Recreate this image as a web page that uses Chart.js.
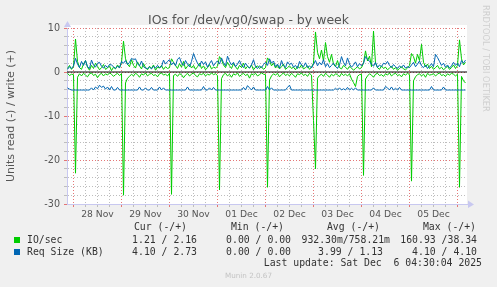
<!DOCTYPE html>
<html>
<head>
<meta charset="utf-8">
<title>IOs for /dev/vg0/swap - by week</title>
<script src="https://cdn.jsdelivr.net/npm/chart.js@4.4.0/dist/chart.umd.min.js"></script>
<style>
  html, body { margin: 0; padding: 0; background: #f0f0f0; }
  #wrap { position: relative; width: 497px; height: 287px; overflow: hidden; font-family: "DejaVu Sans", sans-serif; }
  #wrap canvas { position: absolute; left: 0; top: 0; }
  .t { position: absolute; white-space: pre; }
  .mono { font-family: "DejaVu Sans Mono", monospace; font-size: 9.8px; line-height: 12px; color: #333; }
  .sq { position: absolute; width: 6px; height: 6px; }
</style>
</head>
<body>
<div id="wrap">
  <canvas id="chart" width="497" height="287"></canvas>

  <div class="t" style="left:0;width:497px;top:12px;text-align:center;font-size:12.5px;line-height:16px;color:#555;">IOs for /dev/vg0/swap - by week</div>
  <div class="t" style="left:481px;top:5px;writing-mode:vertical-rl;font-size:8.3px;color:#cfcfcf;">RRDTOOL / TOBI OETIKER</div>

  <div class="t mono" style="right:310px;top:221px;">Cur (-/+)</div>
  <div class="t mono" style="right:213px;top:221px;">Min (-/+)</div>
  <div class="t mono" style="right:117px;top:221px;">Avg (-/+)</div>
  <div class="t mono" style="right:21px;top:221px;">Max (-/+)</div>

  <div class="sq" style="left:14px;top:237px;background:#00cc00;"></div>
  <div class="t mono" style="left:27px;top:233.5px;">IO/sec</div>
  <div class="t mono" style="right:300px;top:233.5px;">1.21 / 2.16</div>
  <div class="t mono" style="right:206px;top:233.5px;">0.00 / 0.00</div>
  <div class="t mono" style="right:107px;top:233.5px;">932.30m/758.21m</div>
  <div class="t mono" style="right:20px;top:233.5px;">160.93 /38.34</div>

  <div class="sq" style="left:14px;top:249px;background:#0066b3;"></div>
  <div class="t mono" style="left:27px;top:245.5px;">Req Size (KB)</div>
  <div class="t mono" style="right:300px;top:245.5px;">4.10 / 2.73</div>
  <div class="t mono" style="right:206px;top:245.5px;">0.00 / 0.00</div>
  <div class="t mono" style="right:114px;top:245.5px;">3.99 / 1.13</div>
  <div class="t mono" style="right:20px;top:245.5px;">4.10 / 4.10</div>

  <div class="t mono" style="right:15px;top:257px;">Last update: Sat Dec  6 04:30:04 2025</div>
  <div class="t" style="left:0;width:497px;top:271px;text-align:center;font-size:7.2px;line-height:10px;color:#c4c4c4;">Munin 2.0.67</div>
</div>

<script>
// hours relative to 28 Nov 00:00, one sample per hour
const startHour = -3;
const xMin = -3.25;
const xMax = 196.75;

const dayLabels = ['28 Nov', '29 Nov', '30 Nov', '01 Dec', '02 Dec', '03 Dec', '04 Dec', '05 Dec'];
const yTicks = [-30, -20, -10, 0, 10];

// IO/sec read (drawn negative)
const ioRead = [
  -0.3, -0.8, -0.5,
  -0.6, -23.0, -1.2, -0.4, -0.9, -0.3, -0.7, -1.1, -0.4, -0.2, -0.8, -0.5, -1.3, -0.6, -0.3, -0.9, -0.4, -0.7, -0.2, -0.5, -1.0, -0.6, -0.3, -0.8,
  -0.4, -28.0, -2.5, -1.4, -1.0, -0.5, -0.9, -0.3, -0.6, -1.2, -0.4, -0.7, -0.2, -0.9, -0.5, -0.3, -0.8, -0.6, -1.1, -0.4, -0.2, -0.7, -0.5, -0.9,
  -0.3, -27.8, -0.8, -0.5, -1.0, -0.4, -0.6, -1.3, -0.7, -0.3, -0.9, -0.5, -0.2, -0.8, -1.1, -0.4, -0.6, -0.3, -0.9, -0.5, -0.7, -0.2, -0.6, -0.4,
  -0.8, -26.8, -1.5, -0.6, -0.3, -0.9, -0.5, -1.2, -0.4, -0.7, -0.2, -1.0, -0.6, -0.3, -0.8, -0.5, -1.4, -0.4, -0.7, -0.3, -0.9, -0.6, -0.2, -0.5,
  -0.6, -26.2, -1.8, -0.9, -0.4, -0.7, -0.3, -1.1, -0.6, -0.2, -0.8, -0.5, -0.9, -0.3, -0.7, -1.2, -0.4, -0.6, -0.2, -0.8, -0.5, -1.0, -0.3, -0.7,
  -11.0, -22.0, -1.4, -0.8, -0.5, -1.0, -0.3, -0.7, -1.2, -0.5, -0.9, -0.4, -0.6, -1.1, -0.3, -0.8, -0.5, -0.9, -0.4, -1.6, -2.4, -3.3, -1.0, -0.6,
  -0.5, -23.5, -1.6, -0.9, -0.4, -0.7, -1.2, -0.5, -0.3, -0.8, -0.6, -1.0, -0.4, -0.7, -0.2, -0.9, -0.5, -0.3, -0.8, -0.6, -1.1, -0.4, -0.7, -0.3,
  -0.6, -24.8, -2.0, -1.1, -0.6, -0.4, -0.9, -0.5, -1.2, -0.3, -0.7, -0.6, -0.4, -0.9, -0.5, -0.2, -0.8, -0.6, -1.0, -0.4, -0.7, -0.3, -0.5, -0.9,
  -0.5, -26.2, -1.0, -2.0, -2.5
];

// IO/sec write
const ioWrite = [
  0.8, 1.5, 0.6,
  1.2, 7.5, 2.4, 1.0, 0.6, 1.8, 2.6, 1.1, 0.4, 1.5, 0.8, 2.0, 1.3, 0.5, 1.0, 1.7, 0.6, 0.9, 1.4, 0.3, 1.1, 0.7, 1.6, 0.9,
  2.2, 7.0, 3.0, 1.8, 1.2, 2.8, 1.5, 0.9, 2.3, 1.4, 0.7, 1.9, 1.0, 0.5, 1.3, 0.8, 1.6, 0.4, 1.1, 0.9, 1.5, 0.6, 1.2, 0.8,
  1.0, 3.0, 2.2, 1.5, 0.8, 1.9, 1.1, 2.4, 0.7, 1.3, 1.8, 0.9, 1.5, 0.6, 1.2, 2.0, 0.8, 1.4, 0.5, 1.0, 1.7, 0.7, 1.1, 0.9,
  1.3, 3.5, 2.8, 1.6, 1.0, 2.2, 1.4, 0.8, 1.9, 1.2, 0.6, 1.5, 1.0, 2.0, 0.7, 1.3, 0.9, 1.6, 0.5, 1.1, 1.4, 0.8, 1.2, 0.6,
  1.0, 3.2, 2.6, 1.4, 2.0, 0.9, 1.5, 0.7, 1.2, 1.8, 0.6, 1.0, 1.4, 0.8, 1.1, 0.5, 1.3, 0.9, 1.6, 0.7, 1.0, 1.4, 0.6, 1.1,
  2.0, 9.1, 4.5, 3.0, 5.0, 2.5, 6.7, 3.5, 2.2, 4.0, 1.8, 1.2, 2.6, 1.0, 0.7, 1.5, 1.1, 0.6, 1.3, 0.9, 0.4, 0.8, 1.2, 0.7,
  1.0, 2.0, 4.8, 2.5, 3.6, 1.2, 9.3, 2.0, 1.0, 0.6, 1.4, 0.8, 1.1, 0.5, 0.9, 1.3, 0.6, 1.0, 0.4, 0.8, 1.2, 0.7, 0.5, 0.9,
  1.5, 4.2, 3.5, 2.0, 4.0, 2.6, 6.3, 2.2, 1.2, 1.8, 0.8, 1.3, 0.6, 1.0, 1.5, 0.7, 1.1, 0.5, 0.9, 1.3, 0.6, 1.0, 1.6, 0.8,
  1.5, 7.3, 3.0, 1.6, 2.2
];

// Req Size (KB) read (drawn negative)
const reqRead = [
  -3.6, -3.9, -4.1,
  -4.1, -4.1, -4.1, -4.1, -4.1, -4.1, -4.1, -4.1, -4.1, -3.6, -4.1, -3.4, -3.8, -3.0, -3.5, -3.2, -3.9, -3.4, -4.1, -3.3, -4.1, -4.1, -3.5, -4.1,
  -4.1, -4.1, -4.1, -4.1, -4.1, -4.1, -4.1, -4.1, -4.1, -3.4, -4.1, -4.1, -3.6, -4.1, -4.1, -3.5, -4.1, -4.1, -4.1, -3.4, -4.1, -3.6, -4.1, -4.1,
  -4.1, -4.1, -4.1, -4.1, -4.1, -4.1, -4.1, -4.1, -4.1, -3.4, -4.1, -4.1, -4.1, -4.1, -4.1, -4.1, -4.1, -3.3, -4.1, -4.1, -3.6, -4.1, -3.5, -4.1,
  -4.1, -4.1, -4.1, -4.1, -4.1, -4.1, -4.1, -4.1, -4.1, -4.1, -4.1, -4.1, -4.1, -3.5, -4.1, -3.1, -3.6, -4.1, -3.4, -4.1, -4.1, -4.1, -4.1, -4.1,
  -4.1, -3.3, -4.1, -3.6, -4.1, -4.1, -4.1, -4.1, -4.1, -4.1, -4.1, -3.5, -3.0, -4.1, -4.1, -4.1, -4.1, -4.1, -4.1, -4.1, -4.1, -4.1, -4.1, -4.1,
  -4.1, -4.1, -4.1, -4.1, -4.1, -4.1, -4.1, -4.1, -4.1, -4.1, -4.1, -3.7, -4.1, -3.6, -4.1, -3.8, -4.1, -3.5, -4.1, -3.7, -4.1, -3.6, -4.1, -4.1,
  -4.1, -4.1, -4.1, -4.1, -4.1, -4.1, -3.6, -4.1, -4.1, -4.1, -4.1, -4.1, -3.3, -3.6, -4.1, -3.4, -4.1, -3.7, -4.1, -3.5, -4.1, -4.1, -4.1, -4.1,
  -4.1, -4.1, -4.1, -4.1, -4.1, -4.1, -4.1, -4.1, -4.1, -4.1, -4.1, -3.3, -4.1, -4.1, -4.1, -4.1, -4.1, -3.4, -4.1, -4.1, -4.1, -4.1, -4.1, -4.1,
  -4.1, -4.1, -4.1, -4.1, -4.1
];

// Req Size (KB) write
const reqWrite = [
  0.6, 1.2, 0.8,
  1.4, 3.1, 1.8, 1.0, 2.4, 1.5, 2.6, 1.2, 0.8, 2.7, 1.6, 1.1, 2.0, 2.2, 1.3, 0.9, 1.5, 1.0, 1.7, 1.6, 1.2, 0.8, 1.3, 1.0,
  2.4, 2.0, 2.6, 1.7, 2.2, 3.1, 2.8, 3.0, 1.9, 1.4, 2.5, 1.2, 0.9, 0.8, 1.1, 0.7, 1.3, 0.9, 1.5, 1.0, 1.2, 2.7, 1.8, 2.4,
  2.8, 1.6, 2.2, 1.4, 2.9, 3.3, 2.0, 1.5, 2.6, 1.8, 1.2, 2.4, 4.2, 3.0, 2.0, 1.3, 2.5, 1.7, 2.3, 1.1, 1.9, 2.6, 1.4, 2.1,
  2.5, 1.8, 3.2, 2.1, 1.4, 3.6, 2.4, 1.6, 2.2, 1.2, 1.8, 2.6, 1.5, 1.0, 2.0, 1.3, 0.9, 1.6, 2.8, 1.2, 0.8, 1.4, 1.0, 1.7,
  2.2, 1.5, 3.0, 2.0, 2.5, 1.2, 1.8, 0.9, 2.6, 1.4, 1.0, 2.3, 1.7, 2.0, 1.1, 1.5, 0.8, 2.4, 1.6, 1.2, 2.1, 1.0, 1.4, 0.9,
  1.8, 2.6, 1.4, 2.2, 1.6, 2.8, 1.2, 1.9, 1.0, 1.5, 2.0, 1.3, 0.8, 1.6, 3.5, 2.2, 1.4, 3.2, 1.8, 1.1, 1.6, 2.3, 1.2, 1.9,
  1.4, 2.0, 3.5, 2.9, 2.4, 1.8, 1.3, 2.2, 1.0, 1.6, 1.2, 2.0, 1.8, 2.4, 1.5, 1.0, 1.7, 1.2, 0.8, 1.4, 1.0, 1.6, 0.9, 1.2,
  1.0, 1.6, 2.2, 1.2, 1.8, 2.5, 1.4, 1.0, 1.6, 0.8, 1.3, 1.9, 1.2, 4.0, 3.3, 2.4, 1.5, 2.0, 1.1, 1.6, 0.9, 1.4, 2.2, 1.5,
  2.0, 1.2, 2.6, 2.0, 2.7
];

const hours = ioRead.map((_, i) => startHour + i);
const pts = vals => vals.map((v, i) => ({ x: hours[i], y: v }));

const GREEN = '#00cc00';
const BLUE = '#0066b3';
const MAJOR = 'rgba(225,95,95,0.85)';
const MINOR = '#bdbdbd';
const AXIS = '#c8c8f0';

function line(data, color) {
  return { data: data, borderColor: color, borderWidth: 1, pointRadius: 0, tension: 0, fill: false };
}

// white plot area + axis arrows like rrdtool
const rrdBits = {
  id: 'rrdBits',
  beforeDraw(chart) {
    const a = chart.chartArea, ctx = chart.ctx;
    ctx.save();
    ctx.fillStyle = '#ffffff';
    ctx.fillRect(a.left, a.top - 3, a.right - a.left, a.bottom - a.top + 3);
    ctx.restore();
  },
  afterDraw(chart) {
    const a = chart.chartArea, ctx = chart.ctx;
    ctx.save();
    ctx.fillStyle = AXIS;
    ctx.beginPath();
    ctx.moveTo(a.left - 3, a.top - 1);
    ctx.lineTo(a.left + 0.5, a.top - 7);
    ctx.lineTo(a.left + 4, a.top - 1);
    ctx.fill();
    ctx.beginPath();
    ctx.moveTo(a.right + 1, a.bottom - 3.5);
    ctx.lineTo(a.right + 7, a.bottom + 0.5);
    ctx.lineTo(a.right + 1, a.bottom + 4);
    ctx.fill();
    ctx.restore();
  }
};

new Chart(document.getElementById('chart'), {
  type: 'line',
  data: {
    datasets: [
      line([{ x: xMin, y: 0 }, { x: xMax, y: 0 }], '#000000'),
      line(pts(reqWrite), BLUE),
      line(pts(reqRead), BLUE),
      line(pts(ioWrite), GREEN),
      line(pts(ioRead), GREEN)
    ]
  },
  plugins: [rrdBits],
  options: {
    responsive: false,
    animation: false,
    events: [],
    layout: { padding: { left: 0, top: 28, right: 30, bottom: 0 } },
    plugins: { legend: { display: false }, tooltip: { enabled: false } },
    scales: {
      x: {
        type: 'linear',
        min: xMin,
        max: xMax,
        afterBuildTicks(scale) {
          const t = [];
          for (let h = 0; h <= xMax; h += 6) t.push({ value: h });
          scale.ticks = t;
        },
        afterFit(scale) { scale.height = 83; },
        ticks: {
          autoSkip: false,
          maxRotation: 0,
          padding: 2,
          color: '#555',
          font: { family: 'DejaVu Sans', size: 9.2 },
          callback: v => (v % 24 === 12 ? (dayLabels[(v - 12) / 24] || '') : '')
        },
        grid: {
          color: c => (c.tick && c.tick.value % 24 === 0 ? MAJOR : MINOR),
          tickColor: c => (c.tick && c.tick.value % 24 === 0 ? MAJOR : MINOR),
          tickLength: 3,
          lineWidth: 1
        },
        border: { color: AXIS, dash: [1, 2] }
      },
      y: {
        min: -30,
        max: 10,
        afterBuildTicks(scale) {
          const t = [];
          for (let v = -30; v <= 10; v += 2) t.push({ value: v });
          scale.ticks = t;
        },
        afterFit(scale) { scale.width = 67; },
        ticks: {
          autoSkip: false,
          padding: 4,
          color: '#555',
          font: { family: 'DejaVu Sans', size: 9.6 },
          callback: v => (yTicks.includes(v) ? String(v) : '')
        },
        grid: {
          color: c => (c.tick && c.tick.value % 10 === 0 ? MAJOR : MINOR),
          tickColor: c => (c.tick && c.tick.value % 10 === 0 ? MAJOR : MINOR),
          tickLength: 3,
          lineWidth: 1
        },
        border: { color: AXIS, dash: [1, 2] },
        title: {
          display: true,
          text: 'Units read (-) / write (+)',
          color: '#555',
          padding: { top: 5, bottom: 0 },
          font: { family: 'DejaVu Sans', size: 11 }
        }
      }
    }
  }
});
</script>
</body>
</html>
